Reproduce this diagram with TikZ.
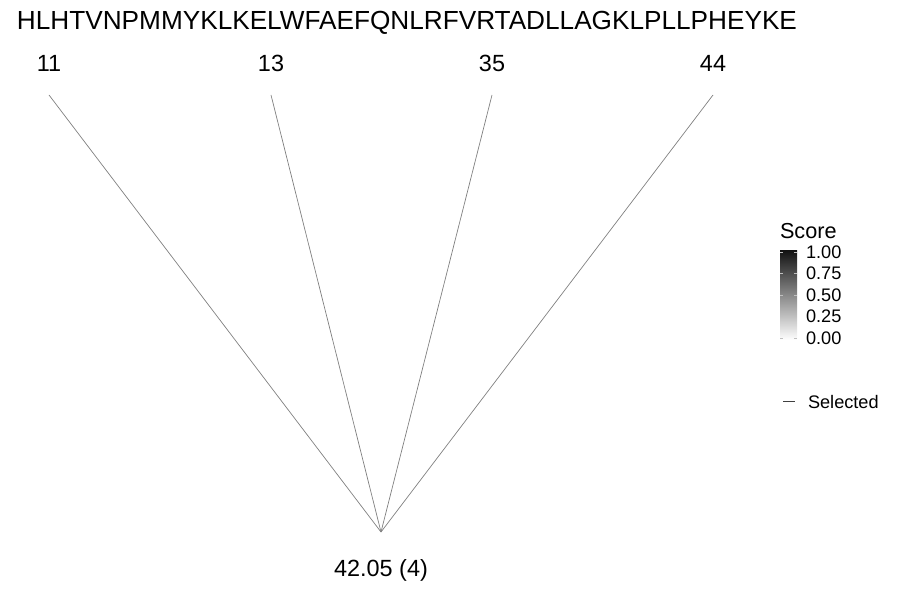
\documentclass[tikz,border=0pt]{standalone}
\usepackage{fontspec}
\setmainfont{Liberation Sans}
\usetikzlibrary{positioning}

\begin{document}
\begin{tikzpicture}[x=0.03cm, y=-0.03cm,
  every node/.style={inner sep=0pt, outer sep=0pt},
  site/.style={font=\fontsize{20}{20}\selectfont, anchor=base},
  link/.style={draw=black!50, line width=0.6pt},
  tick/.style={font=\fontsize{15.5}{15.5}\selectfont, anchor=west}]
  \useasboundingbox (0,0) rectangle (900,600);
  % Sequence
  \node (seq) [anchor=base west, font=\fontsize{22.35}{22.35}\selectfont] at (17,30) {HLHTVNPMMYKLKELWFAEFQNLRFVRTADLLAGKLPLLPHEYKE};
  % Sites and root
  \coordinate (root) at (381,532);
  \foreach \name/\px in {11/49, 13/271, 35/492, 44/713}
  {
    \node (lab\name) [site] at (\px,72) {\name};
    \coordinate (s\name) at (\px,95);
    \draw[link] (s\name) -- (root);
  }
  \node (score) [site] at (381,576) {42.05 (4)};
  % Legend: score bar
  \node (title) [anchor=base west, font=\fontsize{18.5}{18.5}\selectfont] at (780,239) {Score};
  \shade[top color=black!92, bottom color=white] (780,251) rectangle (797,340);
  \foreach \v/\py in {1.00/252, 0.75/273.5, 0.50/295, 0.25/316.5, 0.00/338}
  {
    \node (t\v) [tick] at (806,\py) {\v};
    \draw[white!75!black, line width=0.5pt] (780,\py) -- (783,\py) (794,\py) -- (797,\py);
  }
  % Legend: selected
  \coordinate (selA) at (783,401);
  \coordinate (selB) at (795,401);
  \draw[black!75, line width=0.6pt] (selA) -- (selB);
  \node (sel) [tick] at (808,402) {Selected};
\end{tikzpicture}
\end{document}
